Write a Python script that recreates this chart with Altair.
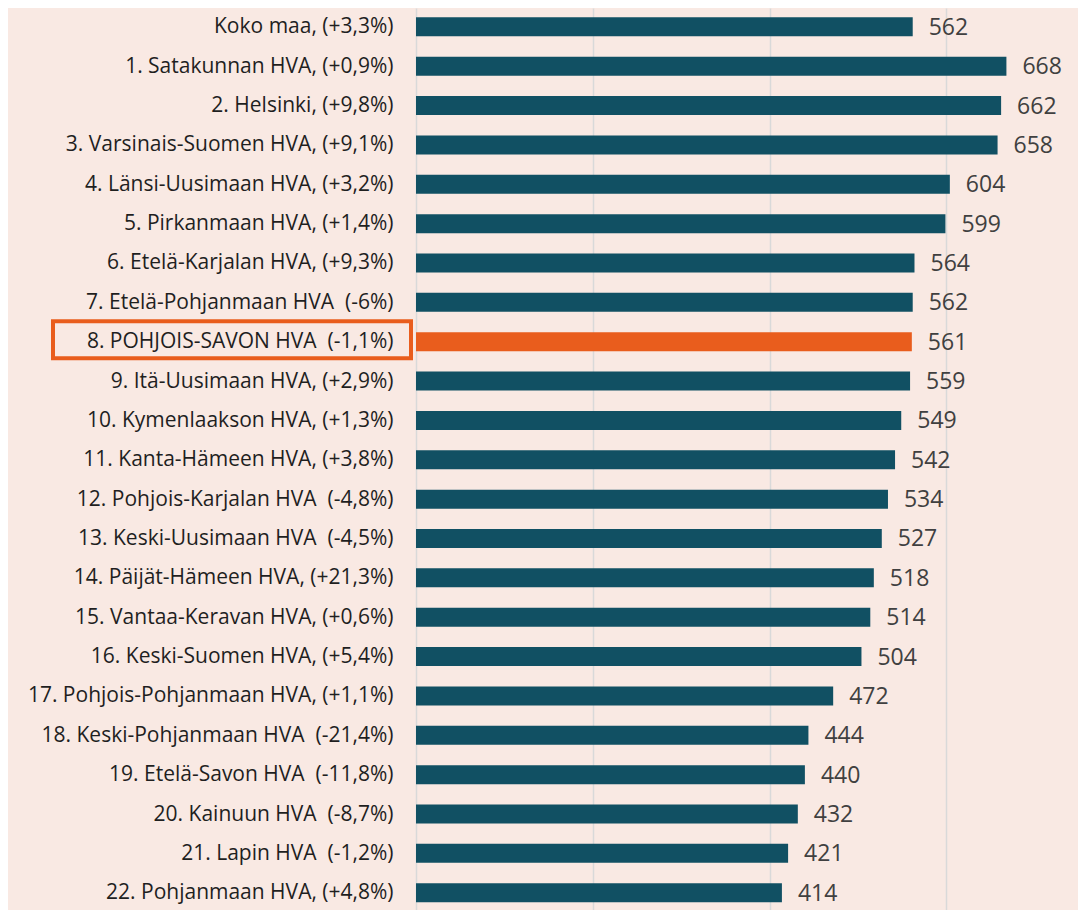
import altair as alt
import pandas as pd
import json

labels = [
    "Koko maa, (+3,3%)",
    "1. Satakunnan HVA, (+0,9%)",
    "2. Helsinki, (+9,8%)",
    "3. Varsinais-Suomen HVA, (+9,1%)",
    "4. Länsi-Uusimaan HVA, (+3,2%)",
    "5. Pirkanmaan HVA, (+1,4%)",
    "6. Etelä-Karjalan HVA, (+9,3%)",
    "7. Etelä-Pohjanmaan HVA  (-6%)",
    "8. POHJOIS-SAVON HVA  (-1,1%)",
    "9. Itä-Uusimaan HVA, (+2,9%)",
    "10. Kymenlaakson HVA, (+1,3%)",
    "11. Kanta-Hämeen HVA, (+3,8%)",
    "12. Pohjois-Karjalan HVA  (-4,8%)",
    "13. Keski-Uusimaan HVA  (-4,5%)",
    "14. Päijät-Hämeen HVA, (+21,3%)",
    "15. Vantaa-Keravan HVA, (+0,6%)",
    "16. Keski-Suomen HVA, (+5,4%)",
    "17. Pohjois-Pohjanmaan HVA, (+1,1%)",
    "18. Keski-Pohjanmaan HVA  (-21,4%)",
    "19. Etelä-Savon HVA  (-11,8%)",
    "20. Kainuun HVA  (-8,7%)",
    "21. Lapin HVA  (-1,2%)",
    "22. Pohjanmaan HVA, (+4,8%)",
]
values = [562, 668, 662, 658, 604, 599, 564, 562, 561, 559, 549, 542, 534,
          527, 518, 514, 504, 472, 444, 440, 432, 421, 414]
highlight_index = 8
grid_ticks = [0, 200, 400, 600]

df = pd.DataFrame({
    "row": list(range(len(labels))),
    "label": labels,
    "value": values,
    "hl": ["yes" if i == highlight_index else "no" for i in range(len(labels))],
})

# keep double spaces visible in SVG text
display_labels = [s.replace("  ", "\u00a0 ") for s in labels]
label_array = json.dumps(display_labels, ensure_ascii=False)

y_scale = alt.Scale(domain=[-0.3518, 22.312], reverse=True, nice=False, zero=False)
y_enc = alt.Y(
    "row:Q",
    scale=y_scale,
    axis=alt.Axis(
        values=list(range(len(labels))),
        labelExpr=f"{label_array}[datum.value]",
        title=None, domain=False, ticks=False, grid=False,
        labelFont="Open Sans", labelFontSize=21, labelColor="#1f1f1f",
        labelPadding=23, labelLimit=420, labelBaseline="middle",
    ),
)
x_enc = alt.X(
    "value:Q",
    scale=alt.Scale(domain=[0, 749], nice=False),
    axis=alt.Axis(
        values=grid_ticks, labels=False, ticks=False, domain=False,
        title=None, grid=True, gridColor="#d9d9d9", gridWidth=1.5,
    ),
)

bars = alt.Chart(df).mark_bar(size=19, orient="horizontal").encode(
    x=x_enc,
    y=y_enc,
    color=alt.Color("hl:N", scale=alt.Scale(domain=["no", "yes"], range=["#115063", "#E95D1D"]), legend=None),
)

text = alt.Chart(df).mark_text(
    align="left", baseline="middle", dx=16, dy=1, font="Open Sans", fontSize=23, color="#404040"
).encode(x="value:Q", y="row:Q", text="value:Q")

box = alt.Chart(df[df["hl"] == "yes"]).mark_bar(
    size=37, filled=False, stroke="#E95D1D", strokeWidth=4, yOffset=-2, orient="horizontal"
).encode(
    y="row:Q",
    x=alt.value(-363),
    x2=alt.value(-5),
)

chart = alt.layer(bars, text, box).properties(
    width=662, height=902,
    background="#F9E9E3",
    padding={"left": 408, "top": 0, "right": 0, "bottom": 0},
    autosize=alt.AutoSizeParams(type="none"),
).configure_view(stroke=None)

chart.save("out.html", embed_options={"renderer": "svg", "actions": False})
